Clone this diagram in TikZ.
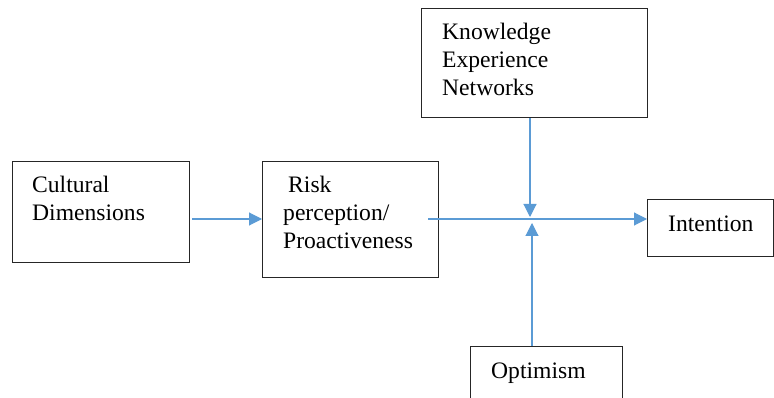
\documentclass[tikz,border=0pt]{standalone}
\usepackage{fontspec}
\setmainfont{Liberation Serif}
\usetikzlibrary{arrows.meta}
\definecolor{arrowblue}{HTML}{5B9BD5}
\tikzset{
  boxnode/.style={draw=black!85, line width=1.2pt, inner sep=0pt, anchor=north west},
  lbl/.style={anchor=base west, inner sep=0pt, font=\rmfamily\fontsize{23.6}{28}\selectfont},
  conn/.style={draw=arrowblue, line width=1.1pt, -{Triangle[length=13pt,width=13pt]}}
}
\begin{document}
\begin{tikzpicture}[x=1pt,y=-1pt]
\useasboundingbox (0,0) rectangle (774,398);
% boxes
\node[boxnode, minimum width=177pt, minimum height=101pt] (cult) at (12,161) {};
\node[boxnode, minimum width=176pt, minimum height=116pt] (risk) at (262,161) {};
\node[boxnode, minimum width=226pt, minimum height=109pt] (know) at (421,8) {};
\node[boxnode, minimum width=126pt, minimum height=57pt] (int) at (647,199) {};
\node[boxnode, minimum width=152pt, minimum height=60pt] (opt) at (470,346) {};
% labels
\node[lbl] (t1) at (32,193) {Cultural};
\node[lbl] (t2) at (32,221) {Dimensions};
\node[lbl] (t3) at (288,193) {Risk};
\node[lbl] (t4) at (283,221) {perception/};
\node[lbl] (t5) at (283,249) {Proactiveness};
\node[lbl] (t6) at (442,40) {Knowledge};
\node[lbl] (t7) at (442,68) {Experience};
\node[lbl] (t8) at (442,96) {Networks};
\node[lbl] (t9) at (668,232) {Intention};
\node[lbl] (t10) at (491,378) {Optimism};
% connectors
\coordinate (a1) at (192,219);
\coordinate (a2) at (428,219);
\coordinate (k1) at (530,217);
\coordinate (o1) at (532,223);
\draw[conn] (a1) -- (risk.west |- a1);
\draw[conn] (a2) -- (int.west |- a2);
\draw[conn] (know.south -| k1) -- (k1);
\draw[conn] (opt.north -| o1) -- (o1);
\end{tikzpicture}
\end{document}
